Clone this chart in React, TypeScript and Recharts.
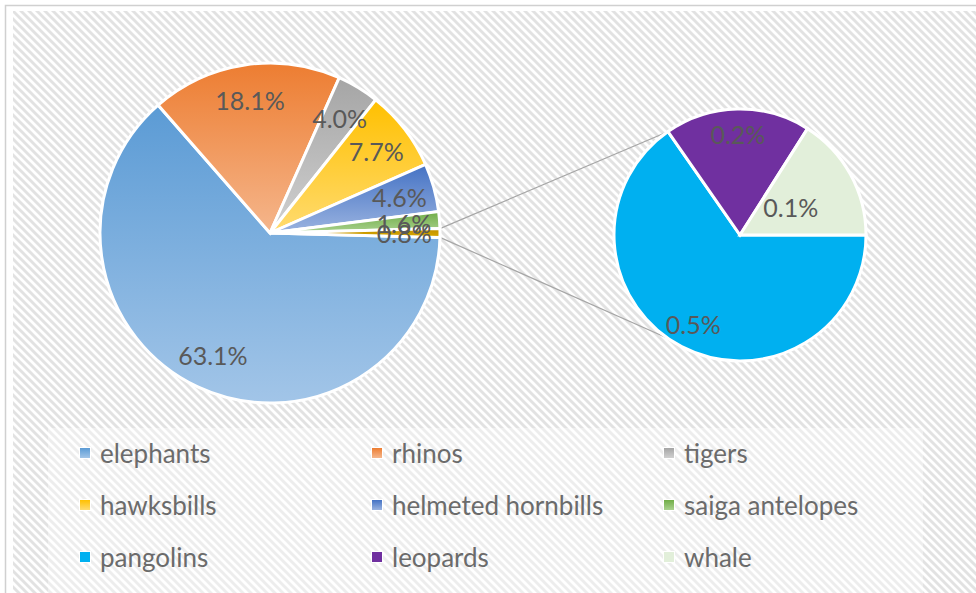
import { PieChart, Pie, Cell } from "recharts";

// main pie (the last slice is the group that is split into the second pie)
const mainNames = ["elephants", "rhinos", "tigers", "hawksbills", "helmeted hornbills", "saiga antelopes", "other"];
const mainValues = [63.1, 18.1, 4.0, 7.7, 4.6, 1.6, 0.819];

// second pie (breakdown of "other")
const subNames = ["pangolins", "leopards", "whale"];
const subValues = [0.535, 0.153, 0.131];

const legendNames = [
  "elephants", "rhinos", "tigers",
  "hawksbills", "helmeted hornbills", "saiga antelopes",
  "pangolins", "leopards", "whale",
];

const colors: Record<string, [string, string]> = {
  elephants: ["#5B9BD5", "#A2C5E8"],
  rhinos: ["#ED7D31", "#F5B68C"],
  tigers: ["#A5A5A5", "#D0D0D0"],
  hawksbills: ["#FFC000", "#FFDB70"],
  "helmeted hornbills": ["#4472C4", "#9AB3E0"],
  "saiga antelopes": ["#70AD47", "#AAD28F"],
  other: ["#BF9000", "#D9A800"],
  pangolins: ["#00B0F0", "#00B0F0"],
  leopards: ["#7030A0", "#7030A0"],
  whale: ["#E2EFDA", "#E2EFDA"],
};

const W = 976;
const H = 593;
const CX1 = 270, CY1 = 233, R1 = 170;
const CX2 = 740, CY2 = 235, R2 = 126;
const FONT = "Lato, 'Open Sans', sans-serif";
const RAD = Math.PI / 180;

const mainData = mainNames.map((name, i) => ({ name, value: mainValues[i] }));
const subData = subNames.map((name, i) => ({ name, value: subValues[i] }));

const mainTotal = mainValues.reduce((a, b) => a + b, 0);
const otherHalf = (mainValues[mainValues.length - 1] / mainTotal) * 180;
const mainStart = -otherHalf;

const gid = (n: string) => "g-" + n.replace(/\s+/g, "-");

const makeLabel = (rFactor: (p: any) => number) => (props: any) => {
  const { cx, cy, midAngle, outerRadius, value } = props;
  const r = outerRadius * rFactor(props);
  const x = cx + r * Math.cos(-midAngle * RAD);
  const y = cy + r * Math.sin(-midAngle * RAD);
  return (
    <text x={x} y={y} fill="#595959" fontSize={25} fontFamily={FONT} textAnchor="middle" dominantBaseline="central">
      {Number(value).toFixed(1)}%
    </text>
  );
};

function Background() {
  const a = (180 - 55) * RAD;
  const b = (180 + 55) * RAD;
  const p1 = [CX1 + R1 * Math.cos(otherHalf * RAD), CY1 - R1 * Math.sin(otherHalf * RAD)];
  const p2 = [CX1 + R1 * Math.cos(otherHalf * RAD), CY1 + R1 * Math.sin(otherHalf * RAD)];
  const q1 = [CX2 + R2 * Math.cos(a), CY2 - R2 * Math.sin(a)];
  const q2 = [CX2 + R2 * Math.cos(b), CY2 - R2 * Math.sin(b)];
  return (
    <svg width={W} height={H} style={{ position: "absolute", left: 0, top: 0 }}>
      <defs>
        <pattern id="hatch" patternUnits="userSpaceOnUse" width={8} height={8} x={13} y={11}>
          <path d="M-2,6 L2,10 M0,0 L8,8 M6,-2 L10,2" stroke="#e2e2e2" strokeWidth={2.9} />
        </pattern>
      </defs>
      <rect x={0} y={0} width={W} height={H} fill="#fff" />
      <rect x={5.5} y={5.5} width={W + 10} height={H + 10} fill="#fff" stroke="#d0d0d0" strokeWidth={1.5} />
      <rect x={13} y={11} width={W} height={H} fill="url(#hatch)" />
      <rect x={48} y={428} width={875} height={H} fill="#fff" fillOpacity={0.38} />
      <line x1={p1[0]} y1={p1[1]} x2={q1[0]} y2={q1[1]} stroke="#a6a6a6" strokeWidth={1.2} />
      <line x1={p2[0]} y1={p2[1]} x2={q2[0]} y2={q2[1]} stroke="#a6a6a6" strokeWidth={1.2} />
    </svg>
  );
}

function LegendBox() {
  return (
    <div style={{ position: "absolute", left: 0, top: 0, width: W, height: H, fontFamily: FONT }}>
      {legendNames.map((n, i) => {
        const col = i % 3;
        const row = Math.floor(i / 3);
        const [c1, c2] = colors[n];
        return (
          <div
            key={n}
            style={{
              position: "absolute",
              left: 80 + col * 292,
              top: 453 + row * 52 - 16,
              height: 32,
              display: "flex",
              alignItems: "center",
              whiteSpace: "nowrap",
            }}
          >
            <div
              style={{
                width: 10,
                height: 10,
                background: `linear-gradient(${c1}, ${c2})`,
                outline: "1px solid #fff",
                marginRight: 10,
              }}
            />
            <span style={{ fontSize: 26, color: "#6b6b6b" }}>{n}</span>
          </div>
        );
      })}
    </div>
  );
}

export default function App() {
  return (
    <div style={{ position: "absolute", left: 0, top: 0, width: W, height: H }}>
      <Background />
      <div style={{ position: "absolute", left: 0, top: 0 }}>
        <PieChart width={W} height={H} margin={{ top: 0, right: 0, bottom: 0, left: 0 }}>
          <defs>
            {Object.keys(colors).map((n) => (
              <linearGradient key={n} id={gid(n)} x1="0" y1="0" x2="0" y2="1">
                <stop offset="0%" stopColor={colors[n][0]} />
                <stop offset="100%" stopColor={colors[n][1]} />
              </linearGradient>
            ))}
          </defs>
          <Pie
            data={mainData}
            dataKey="value"
            nameKey="name"
            cx={CX1}
            cy={CY1}
            outerRadius={R1}
            startAngle={mainStart}
            endAngle={mainStart - 360}
            stroke="#fff"
            strokeWidth={3}
            isAnimationActive={false}
            labelLine={false}
            label={makeLabel(() => 0.79)}
          >
            {mainData.map((d) => (
              <Cell key={d.name} fill={`url(#${gid(d.name)})`} />
            ))}
          </Pie>
          <Pie
            data={subData}
            dataKey="value"
            nameKey="name"
            cx={CX2}
            cy={CY2}
            outerRadius={R2}
            startAngle={0}
            endAngle={-360}
            stroke="#fff"
            strokeWidth={3}
            isAnimationActive={false}
            labelLine={false}
            label={makeLabel((p) => (p.percent < 0.17 ? 0.46 : 0.8))}
          >
            {subData.map((d) => (
              <Cell key={d.name} fill={colors[d.name][0]} />
            ))}
          </Pie>
        </PieChart>
      </div>
      <LegendBox />
    </div>
  );
}
